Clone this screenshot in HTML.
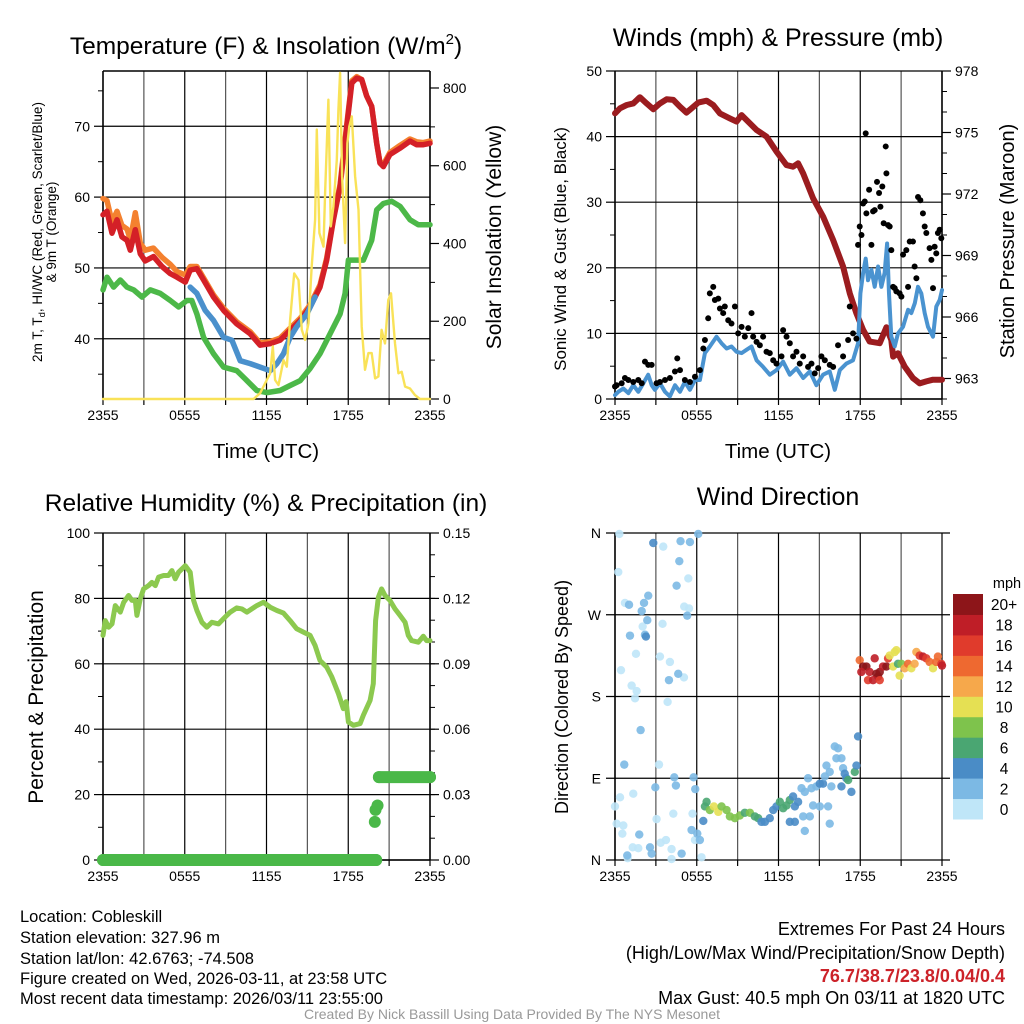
<!DOCTYPE html>
<html><head><meta charset="utf-8"><style>
body{margin:0;background:#fff;}
svg{display:block;font-family:"Liberation Sans",sans-serif;}
</style></head><body>
<svg id="fig" width="1024" height="1024" viewBox="0 0 1024 1024">
<g id="p1"></g>
<g id="p2"></g>
<g id="p3"></g>
<g id="p4"></g>
<text x="266" y="54" font-size="24.5" text-anchor="middle">Temperature (F) &amp; Insolation (W/m<tspan font-size="15" dy="-10">2</tspan><tspan dy="10">)</tspan></text>
<text x="778" y="46" font-size="25" text-anchor="middle">Winds (mph) &amp; Pressure (mb)</text>
<text x="266" y="511" font-size="24.5" text-anchor="middle">Relative Humidity (%) &amp; Precipitation (in)</text>
<text x="778" y="505" font-size="25" text-anchor="middle">Wind Direction</text>
<text x="266" y="458" font-size="20.5" text-anchor="middle">Time (UTC)</text>
<text x="778" y="458" font-size="20.5" text-anchor="middle">Time (UTC)</text>
<text transform="translate(42,232) rotate(-90)" font-size="13.5" text-anchor="middle">2m T, T<tspan font-size="9.5" dy="3">d</tspan><tspan dy="-3">, HI/WC (Red, Green, Scarlet/Blue)</tspan></text>
<text transform="translate(56,232) rotate(-90)" font-size="13.5" text-anchor="middle">&amp; 9m T (Orange)</text>
<text transform="translate(501,237) rotate(-90)" font-size="21" text-anchor="middle">Solar Insolation (Yellow)</text>
<text transform="translate(566,249) rotate(-90)" font-size="17" text-anchor="middle">Sonic Wind &amp; Gust (Blue, Black)</text>
<text transform="translate(1014,241) rotate(-90)" font-size="20" text-anchor="middle">Station Pressure (Maroon)</text>
<text transform="translate(43,697) rotate(-90)" font-size="21" text-anchor="middle">Percent &amp; Precipitation</text>
<text transform="translate(568,697) rotate(-90)" font-size="18" text-anchor="middle">Direction (Colored By Speed)</text>
<g font-size="16.5">
<text x="20" y="922">Location: Cobleskill</text>
<text x="20" y="943">Station elevation: 327.96 m</text>
<text x="20" y="964">Station lat/lon: 42.6763; -74.508</text>
<text x="20" y="984">Figure created on Wed, 2026-03-11, at 23:58 UTC</text>
<text x="20" y="1004">Most recent data timestamp: 2026/03/11 23:55:00</text>
</g>
<g font-size="18" text-anchor="end">
<text x="1005" y="935">Extremes For Past 24 Hours</text>
<text x="1005" y="959">(High/Low/Max Wind/Precipitation/Snow Depth)</text>
<text x="1005" y="982" fill="#cc2229" font-weight="bold">76.7/38.7/23.8/0.04/0.4</text>
<text x="1005" y="1004">Max Gust: 40.5 mph On 03/11 at 1820 UTC</text>
</g>
<text x="512" y="1019" font-size="14" fill="#999" text-anchor="middle">Created By Nick Bassill Using Data Provided By The NYS Mesonet</text>
</svg>
<script>
// ---- data ----
const tempTimes=[0,.29,.66,1.03,1.39,1.76,2.0,2.37,2.74,3.1,3.71,4.33,4.94,5.43,6.04,6.4,6.89,7.38,8.11,8.85,9.82,10.8,11.53,12.27,13.0,13.73,14.47,15.2,15.93,16.42,16.91,17.4,17.89,18.26,18.62,18.99,19.35,19.72,20.09,20.33,20.58,21.06,21.8,22.53,23.02,23.51,24];
const tempVals=[57.5,58.0,54.9,56.8,54.4,53.9,52.5,55.4,52.0,51.0,51.6,50.2,49.2,48.7,48.0,49.7,49.9,48.3,45.9,44.0,42.1,40.7,39.1,39.3,39.8,41.2,42.6,44.5,47.3,51.1,56.8,61.5,70.0,76.1,76.8,76.6,74.3,72.8,67.6,64.8,64.3,66.0,66.9,67.9,67.4,67.4,67.6];
const temp9Vals=[59.8,59.5,56.5,58.0,56.0,55.5,54.0,57.8,53.5,52.5,52.8,51.5,50.5,49.5,49.0,50.2,50.2,48.6,46.2,44.3,42.4,41.0,39.4,39.6,40.1,41.5,42.9,44.8,47.6,51.4,57.0,61.8,70.3,76.4,77.0,76.6,74.3,72.8,67.6,64.8,64.6,66.3,67.3,68.2,67.8,67.7,67.9];
const hiTimes=[6.4,6.89,7.5,8.11,8.85,9.46,10.07,10.8,11.53,12.27,12.76,13.25,13.73,14.22,14.96,15.57];
const hiVals=[47.3,46.4,44.0,42.6,40.2,39.8,36.9,36.5,36.0,35.5,36.5,37.9,40.2,41.7,43.5,45.9];
const dewTimes=[0,.29,.78,1.27,1.76,2.25,2.86,3.47,4.2,4.94,5.55,6.16,6.52,6.89,7.38,8.11,8.85,9.82,10.56,11.29,12.02,13.0,13.73,14.47,15.2,15.93,16.67,17.4,17.77,18.01,18.38,19.11,19.72,20.09,20.58,21.19,21.8,22.53,23.14,24];
const dewVals=[46.9,48.7,47.3,48.3,47.3,46.9,45.9,46.9,46.4,45.4,44.5,45.4,45.4,43.5,40.2,37.9,36.0,35.5,34.1,32.7,32.4,32.7,33.4,34.1,35.8,37.9,40.7,43.5,46.4,51.1,51.1,51.1,53.9,58.2,59.1,59.4,58.7,56.8,56.1,56.1];
const solarTimes=[0,11.05,11.53,12.02,12.27,12.46,12.63,12.88,13.25,13.49,13.73,14.03,14.35,14.59,14.83,15.08,15.32,15.57,15.69,15.88,16.18,16.3,16.54,16.72,16.91,17.16,17.28,17.4,17.55,17.77,17.94,18.08,18.26,18.5,18.75,18.99,19.23,19.48,19.72,19.97,20.21,20.45,20.7,20.94,21.14,21.43,21.68,21.92,22.17,22.53,22.9,23.26,24];
const solarVals=[0,0,15,49,66,135,49,36,100,83,203,323,306,178,152,195,341,461,693,427,392,530,770,444,495,615,744,839,573,401,658,701,727,573,487,186,75,118,118,53,58,178,143,255,272,143,66,70,32,27,10,0,0];
const presTimes=[0,.37,.86,1.34,1.83,2.32,2.81,3.3,3.79,4.28,4.77,5.25,5.62,6.11,6.72,7.21,7.7,8.43,8.92,9.29,9.65,10.39,11.12,11.85,12.59,13.07,13.44,13.81,14.54,15.28,16.01,16.74,17.23,17.72,18.21,18.69,19.43,19.92,20.28,20.41,20.77,21.26,21.87,22.36,22.85,23.34,24];
const presVals=[975.93,976.18,976.34,976.42,976.72,976.42,976.13,976.42,976.62,976.59,976.26,975.97,976.18,976.46,976.55,976.34,975.93,975.69,975.53,975.85,975.61,975.12,974.8,974.07,973.41,973.33,973.5,973.0,971.79,970.89,969.76,968.46,967.15,966.18,965.37,964.8,964.72,965.5,964.88,964.07,964.23,963.58,963.02,962.76,962.86,962.94,962.94];
const windTimes=[0,.24,.61,.98,1.34,1.71,2.08,2.44,2.69,2.93,3.3,3.67,4.03,4.4,4.77,5.13,5.5,5.87,6.23,6.6,6.96,7.45,7.82,8.19,8.55,8.92,9.29,9.65,10.02,10.39,10.87,11.36,11.85,12.34,12.83,13.32,13.81,14.3,14.78,15.27,15.76,16.13,16.5,16.98,17.47,17.84,18.01,18.21,18.4,18.57,18.82,19.06,19.31,19.55,19.79,19.97,20.11,20.28,20.53,20.77,21.14,21.51,21.75,22.0,22.24,22.48,22.73,22.97,23.34,23.58,23.83,24];
const windVals=[0.6,1.1,1.6,0.9,2.1,1.1,2.4,3.7,2.1,1.4,2.4,1.1,0.4,2.1,1.1,2.6,1.4,2.9,2.9,7.0,8.0,9.5,8.5,7.7,8.0,7.2,7.0,7.5,8.0,5.9,4.9,3.7,4.4,5.7,3.7,4.7,3.2,4.2,2.1,3.7,4.2,1.4,4.4,5.4,5.9,8.5,16.1,19.2,21.4,18.1,19.7,17.1,20.2,17.1,19.2,23.7,16.1,9.5,8.0,10.0,11.0,13.6,13.1,14.6,17.1,16.1,13.1,11.0,9.5,14.1,15.1,16.6];
const gustTimes=[0,.12,.49,.73,.98,1.34,1.71,1.96,2.2,2.44,2.69,3.05,3.3,3.67,4.03,4.4,4.57,4.77,5.13,5.5,5.87,6.23,6.48,6.6,6.84,6.96,7.21,7.33,7.58,7.7,7.94,8.06,8.31,8.55,8.8,9.04,9.29,9.53,9.78,10.02,10.14,10.39,10.63,10.87,11.12,11.36,11.61,11.85,12.22,12.34,12.59,12.83,13.07,13.32,13.56,13.81,14.17,14.42,14.66,14.91,15.15,15.4,15.76,16.01,16.37,16.74,17.11,17.23,17.47,17.72,17.84,17.96,18.09,18.21,18.33,18.4,18.45,18.65,18.82,18.94,19.06,19.23,19.38,19.48,19.62,19.72,19.87,19.92,20.04,20.16,20.28,20.41,20.53,20.65,20.89,21.02,21.14,21.38,21.51,21.63,21.87,21.99,22.12,22.24,22.41,22.6,22.73,22.85,23.09,23.22,23.34,23.46,23.58,23.7,23.83,23.95];
const gustVals=[1.9,2.1,2.4,3.2,2.9,2.6,2.9,2.4,5.7,5.2,5.2,2.4,2.6,2.9,3.2,4.2,6.2,4.4,2.9,2.6,3.4,4.4,7.7,9.0,12.3,16.1,17.1,15.1,15.3,13.8,13.1,14.1,12.0,11.5,14.1,10.0,11.0,9.5,10.8,13.1,9.5,8.7,8.2,9.5,7.2,7.0,5.9,5.4,6.5,10.5,9.5,8.5,6.5,7.2,5.4,6.5,4.9,5.4,3.9,4.7,6.5,5.9,5.2,4.9,8.2,6.5,9.0,14.1,10.0,9.2,23.5,26.3,25.0,29.8,30.1,40.5,28.3,31.9,23.5,28.6,28.8,33.1,31.4,29.3,32.4,26.8,38.5,34.4,26.5,26.3,22.7,17.1,16.9,16.4,16.1,15.6,22.0,22.7,17.1,24.0,24.0,20.2,18.4,30.8,30.3,28.3,26.3,25.3,23.0,21.2,16.9,23.2,22.2,25.3,25.8,24.5];
const rhTimes=[0,.17,.42,.66,.9,1.27,1.52,1.88,2.13,2.37,2.49,2.74,2.98,3.35,3.59,3.84,4.08,4.45,4.81,5.06,5.3,5.55,6.04,6.4,6.65,6.89,7.26,7.62,7.99,8.48,8.97,9.34,9.82,10.19,10.56,10.92,11.29,11.78,12.27,12.76,13.25,13.73,14.22,14.71,15.2,15.57,15.93,16.42,16.79,17.28,17.64,17.84,18.01,18.38,18.87,19.11,19.6,19.84,20.01,20.21,20.45,20.7,21.06,21.43,21.8,22.17,22.41,22.65,23.14,23.51,23.75,24];
const rhVals=[68.7,73.2,71.2,72.2,77.8,75.8,78.8,80.9,79.4,79.4,74.8,79.9,82.9,83.9,84.9,83.9,86.5,87.0,87.0,88.5,86.0,88.0,90.0,88.0,79.4,76.3,72.7,71.2,72.7,72.2,74.3,75.8,77.1,76.8,75.8,76.8,77.8,78.8,77.3,76.3,75.5,73.2,70.7,69.7,68.7,65.6,61.0,59.0,56.0,50.9,46.3,48.4,42.2,41.2,41.7,44.3,48.8,53.9,73.2,80.4,82.9,80.9,79.4,76.8,74.8,72.7,68.7,67.1,66.6,68.4,67.1,67.1];
const precipTimes=[0,20.05,19.95,20.0,20.15,20.25,24];
const precipVals=[0,0,0.0175,0.023,0.025,0.038,0.038];
const dirTimes=[.32,.24,.73,.44,1.22,1.59,1.47,1.54,2.03,3.3,4.03,3.86,5.06,3.49,3.54,5.38,5.08,5.43,.37,0,.12,.61,.54,1.34,1.3,1.71,.93,3.05,3.35,3.74,4.15,4.15,4.28,3.23,5.69,5.87,6.35,
1.03,2.13,1.96,2.37,2.44,1.1,2.2,4.64,3.96,4.52,4.72,4.81,5.5,6.11,5.3,.68,1.88,2.96,4.35,4.47,5.77,5.89,5.62,6.23,.9,1.78,2.57,2.69,4.89,6.04,
2.81,2.27,6.48,
6.6,6.72,6.96,7.26,7.58,7.82,8.19,8.43,8.8,9.16,9.53,9.9,10.26,10.51,10.75,11.0,11.36,11.61,11.85,12.1,12.34,12.59,12.83,13.07,13.2,13.44,13.69,13.93,14.17,14.42,14.54,14.78,15.03,15.27,15.4,15.64,15.88,15.52,15.76,16.13,16.37,16.25,16.62,16.74,16.86,16.98,17.11,17.35,17.6,17.72,17.84,13.81,14.3,13.93,12.83,13.2,15.76,16.62,15.03,
17.96,18.21,18.45,18.69,19.06,19.18,19.31,19.43,19.67,19.92,20.04,18.57,18.94,19.43,18.08,20.16,20.41,20.53,20.65,20.77,20.89,21.02,21.26,21.51,21.75,21.99,22.12,22.36,22.6,22.85,23.09,23.34,23.58,23.7,23.95,24];
const dirVals=[359,317,283,209,192,186,178,227,257,224,218,174,201,260,345,310,279,277,69,59,40,38,29,73,14,13,2,45,19,22,12,1,51,105,51,22,3,
281,283,274,264,291,247,248,205,198,302,329,351,350,359,269,105,143,80,91,82,91,78,33,22,5,28,14,7,7,29,
349,246,43,
59,64,55,59,53,59,55,48,46,49,52,52,48,46,42,42,46,55,59,64,57,60,66,70,59,64,79,75,90,79,60,81,59,84,92,59,81,104,97,125,123,112,112,101,95,90,88,75,97,104,136,48,48,32,42,42,40,81,84,
220,213,213,207,222,205,202,207,213,213,222,198,198,198,207,225,213,229,231,216,203,216,211,216,211,216,229,225,224,222,218,211,218,224,216,214];
const dirSpeeds=[1,1,1,1,1,1,1,1,1,1,1,1,1,1,1,1,1,1,1,1,1,1,1,1,1,1,1,1,1,1,1,1,1,1,1,1,1,
3,3,3,3,3,3,3,3,3,3,3,3,3,3,3,3,3,3,3,3,3,3,3,3,3,3,3,3,3,3,
5,5,5,
7,7,9,11,11,9,9,9,9,9,7,9,7,7,5,5,5,5,5,7,7,7,7,5,5,5,3,3,3,3,3,3,3,5,3,3,3,3,3,3,3,3,3,3,5,5,7,5,7,5,5,3,3,3,5,5,3,5,5,
15,21,21,19,19,21,21,21,19,21,17,17,19,17,19,11,11,11,11,7,11,9,13,15,11,13,13,17,19,17,15,11,15,15,17,19];
const xTickLabels=["2355","0555","1155","1755","2355"];
const speedBinLabels=["0","2","4","6","8","10","12","14","16","18","20+"];
const speedColors=["#bfe6f8","#7cb9e4","#4a8cc6","#4aa672","#7ec34c","#e5e053","#f6a84b","#ee6930","#e03b2c","#bf1e27","#8d1519"];
const dirTickLabels=["N","E","S","W","N"];

// ---- helpers ----
const NS="http://www.w3.org/2000/svg";
function mk(parent,tag,attrs){const e=document.createElementNS(NS,tag);for(const k in attrs)e.setAttribute(k,attrs[k]);parent.appendChild(e);return e;}
function frame(g,x0,x1,y0,y1){
  for(let h=0;h<=24;h+=3){const x=x0+(x1-x0)*h/24;
    const l=mk(g,'line',{x1:x,x2:x,y1:y0,y2:y1,stroke:(h%6===0?'#000':'#555'),'stroke-width':1.2});
    
    mk(g,'line',{x1:x,x2:x,y1:y1,y2:y1+6,stroke:'#000','stroke-width':1.2});}
  xTickLabels.forEach((s,i)=>{const t=mk(g,'text',{x:x0+(x1-x0)*i/4,y:y1+21,'font-size':14,'text-anchor':'middle'});t.textContent=s;
    });
}
function yAxis(g,side,x,sc,majors,minors,fmt,y0,y1,x0,x1,grid){
  const d=side==='l'?-1:1;
  minors.forEach(v=>{const y=sc(v);mk(g,'line',{x1:x,x2:x+d*5,y1:y,y2:y,stroke:'#000','stroke-width':1});});
  majors.forEach(v=>{const y=sc(v);mk(g,'line',{x1:x,x2:x+d*9,y1:y,y2:y,stroke:'#000','stroke-width':1.2});
    if(grid){const l=mk(g,'line',{x1:x0,x2:x1,y1:y,y2:y,stroke:'#000','stroke-width':1.2});}
    const t=mk(g,'text',{x:x+d*13,y:y+5,'font-size':14,'text-anchor':side==='l'?'end':'start'});t.textContent=fmt(v);
    });
  mk(g,'line',{x1:x,x2:x,y1:y0,y2:y1,stroke:'#000','stroke-width':1.5});
}
function line(g,xs,ys,xf,yf,color,w,name){
  const p=xs.map((t,i)=>xf(t).toFixed(1)+','+yf(ys[i]).toFixed(1)).join(' ');
  const e=mk(g,'polyline',{points:p,fill:'none',stroke:color,'stroke-width':w,'stroke-linejoin':'round','stroke-linecap':'round'});
  return e;
}
const range=(a,b,s)=>{const r=[];for(let v=a;v<=b+1e-9;v+=s)r.push(+v.toFixed(4));return r;};

// ---- panel 1 ----
(function(){const g=document.getElementById('p1');const x0=103,x1=430,y0=71,y1=399;
  const X=t=>x0+(x1-x0)*t/24, Y=v=>y1-(v-31.5)/(77.8-31.5)*(y1-y0), S=v=>y1-v/843.7*(y1-y0);
  frame(g,x0,x1,y0,y1);
  yAxis(g,'l',x0,Y,[40,50,60,70],[35,45,55,65,75],v=>v,y0,y1,x0,x1,true);
  yAxis(g,'r',x1,S,[0,200,400,600,800],[100,300,500,700],v=>v,y0,y1);
  mk(g,'line',{x1:x0,x2:x1,y1:y0,y2:y0,stroke:'#000','stroke-width':1.5});
  mk(g,'line',{x1:x0,x2:x1,y1:y1,y2:y1,stroke:'#000','stroke-width':1.5});
  line(g,dewTimes,dewVals,X,Y,'#4cb848',5.5,'dewpoint-line');
  line(g,tempTimes,temp9Vals,X,Y,'#f4812f',5.5,'temp-9m-line');
  line(g,tempTimes,tempVals,X,Y,'#d42027',5.5,'temp-2m-line');
  line(g,hiTimes,hiVals,X,Y,'#4a90cc',5.5,'windchill-line');
  line(g,solarTimes,solarVals,X,S,'#f9e258',2.4,'solar-line');
})();
// ---- panel 2 ----
(function(){const g=document.getElementById('p2');const x0=615,x1=942,y0=71,y1=399;
  const X=t=>x0+(x1-x0)*t/24, W=v=>y1-v/50*(y1-y0), P=v=>y1-(v-962)/16*(y1-y0);
  frame(g,x0,x1,y0,y1);
  yAxis(g,'l',x0,W,[0,10,20,30,40,50],range(5,45,10),v=>v,y0,y1,x0,x1,true);
  yAxis(g,'r',x1,P,[963,966,969,972,975,978],range(962,978,1),v=>v,y0,y1);
  mk(g,'line',{x1:x0,x2:x1,y1:y1,y2:y1,stroke:'#000','stroke-width':1.5});
  line(g,presTimes,presVals,X,P,'#9b1c1f',6,'pressure-line');
  line(g,windTimes,windVals,X,W,'#4a93d0',4,'wind-line');
  gustTimes.forEach((t,i)=>{const c=mk(g,'circle',{cx:X(t),cy:W(gustVals[i]),r:3,fill:'#000'});
    });
})();
// ---- panel 3 ----
(function(){const g=document.getElementById('p3');const x0=103,x1=430,y0=533,y1=860;
  const X=t=>x0+(x1-x0)*t/24, R=v=>y1-v/100*(y1-y0), Q=v=>y1-v/0.15*(y1-y0);
  frame(g,x0,x1,y0,y1);
  yAxis(g,'l',x0,R,[0,20,40,60,80,100],range(10,90,20),v=>v,y0,y1,x0,x1,true);
  yAxis(g,'r',x1,Q,[0,.03,.06,.09,.12,.15],range(.01,.14,.01),v=>v.toFixed(2),y0,y1);
  mk(g,'line',{x1:x0,x2:x1,y1:y1,y2:y1,stroke:'#000','stroke-width':1.5});
  line(g,rhTimes,rhVals,X,R,'#8cc94f',5,'rh-line');
  for(let i=1;i<precipTimes.length;i++){if(precipVals[i]===precipVals[i-1]){
    const l=mk(g,'line',{x1:X(precipTimes[i-1]),x2:X(precipTimes[i]),y1:Q(precipVals[i]),y2:Q(precipVals[i]),stroke:'#4ab848','stroke-width':12,'stroke-linecap':'round'});
    }}
  precipTimes.forEach((t,i)=>{const c=mk(g,'circle',{cx:X(t),cy:Q(precipVals[i]),r:6,fill:'#4ab848'});
    });
})();
// ---- panel 4 ----
(function(){const g=document.getElementById('p4');const x0=615,x1=942,y0=533,y1=860;
  const X=t=>x0+(x1-x0)*t/24, D=v=>y1-v/360*(y1-y0);
  frame(g,x0,x1,y0,y1);
  dirTickLabels.forEach((s,i)=>{const y=D(i*90);mk(g,'line',{x1:x0-9,x2:x1+8,y1:y,y2:y,stroke:'#000','stroke-width':1.2});
    const t=mk(g,'text',{x:x0-14,y:y+5,'font-size':14,'text-anchor':'end'});t.textContent=s;
    });
  mk(g,'line',{x1:x0,x2:x0,y1:y0,y2:y1,stroke:'#000','stroke-width':1.5});
  dirTimes.forEach((t,i)=>{const b=Math.min(10,Math.floor(dirSpeeds[i]/2));
    const c=mk(g,'circle',{cx:X(t),cy:D(dirVals[i]),r:4.2,fill:speedColors[b],'fill-opacity':0.9});
    });
  const cbx=953,cbw=30,cbTop=594,cbBot=819,h=(cbBot-cbTop)/speedColors.length;
  speedColors.forEach((col,i)=>{const y=cbBot-(i+1)*h;
    const r=mk(g,'rect',{x:cbx,y:y,width:cbw,height:h+0.5,fill:col});
    
    const t=mk(g,'text',{x:1004,y:y+h/2+6,'font-size':15.5,'text-anchor':'middle'});t.textContent=speedBinLabels[i];
    });
  const u=mk(g,'text',{x:1007,y:588,'font-size':14.5,'text-anchor':'middle'});u.textContent='mph';
  
})();
</script>
</body></html>
